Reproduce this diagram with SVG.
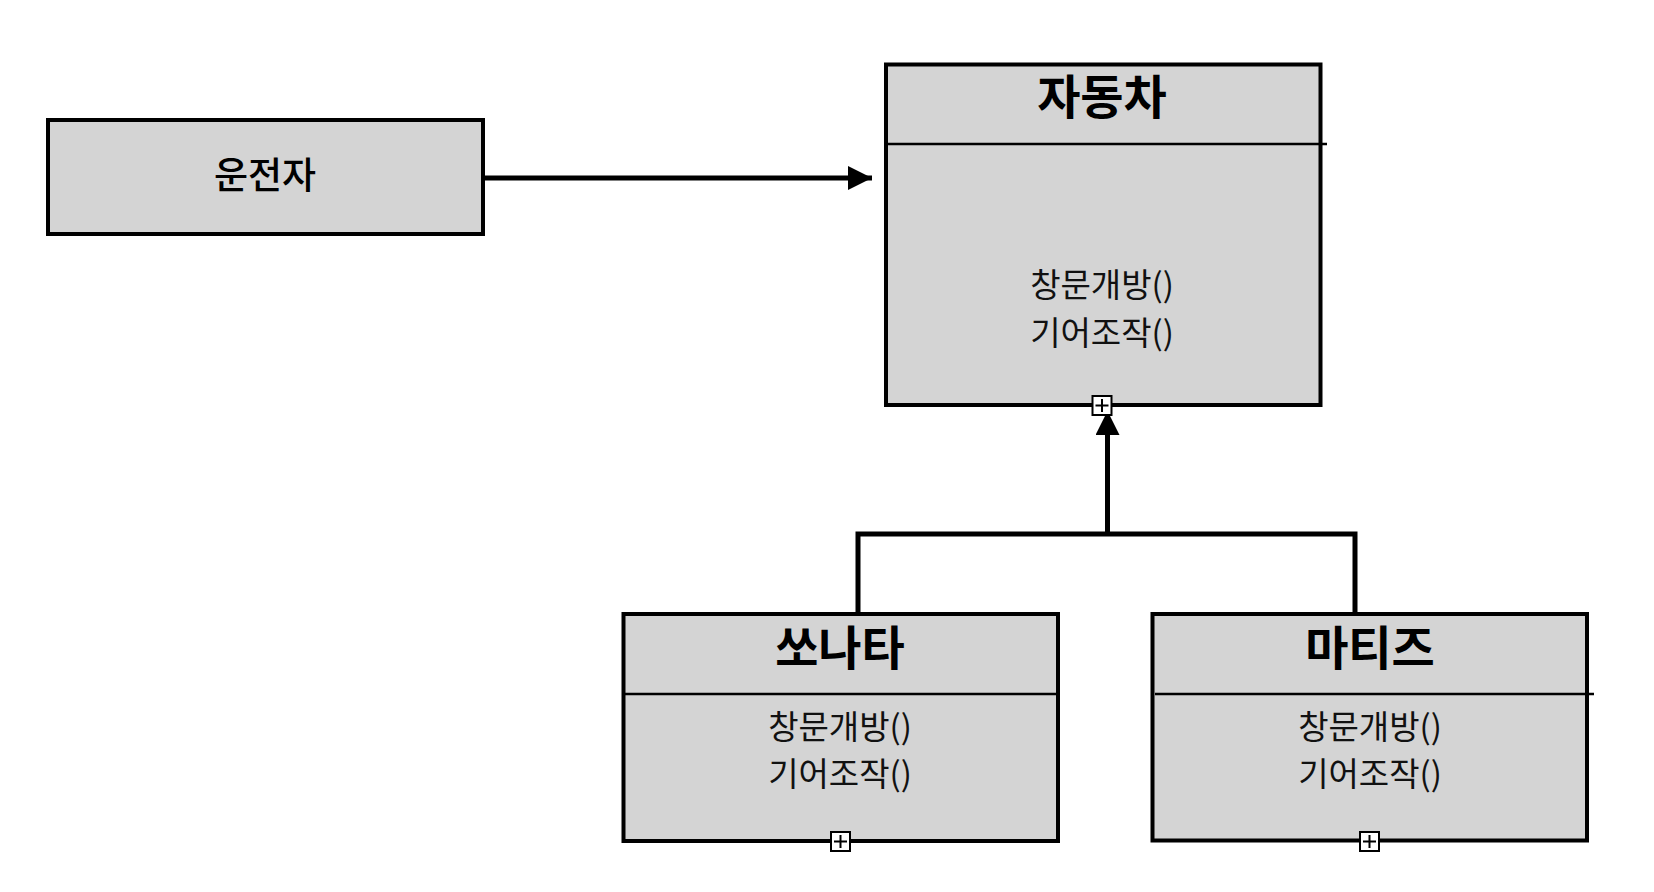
<svg xmlns="http://www.w3.org/2000/svg" width="1654" height="892" viewBox="0 0 1654 892">
  <style>
    .box { fill: #d4d4d4; stroke: #000; stroke-width: 4; }
    .div { stroke: #000; stroke-width: 2.3; }
    .title { font-family: "Noto Sans CJK KR", "Noto Sans", sans-serif; font-weight: 700; font-size: 47px; text-anchor: middle; dominant-baseline: central; fill: #000; }
    .name { font-family: "Noto Sans CJK KR", "Noto Sans", sans-serif; font-weight: 500; font-size: 37px; text-anchor: middle; dominant-baseline: central; fill: #000; }
    .meth { font-family: "Noto Sans CJK KR", "Noto Sans", sans-serif; font-weight: 400; font-size: 33px; text-anchor: middle; dominant-baseline: central; fill: #111; }
    .conn { fill: none; stroke: #000; stroke-width: 5; }
    .plus rect { fill: #fff; stroke: #000; stroke-width: 2; }
    .plus path { stroke: #000; stroke-width: 2; fill: none; }
  </style>
  <defs>
    <marker id="arrow" markerUnits="userSpaceOnUse" markerWidth="26" markerHeight="26" refX="24" refY="12" orient="auto">
      <path d="M0,0 L24,12 L0,24 Z" fill="#000"/>
    </marker>
  </defs>
  <rect width="1654" height="892" fill="#fff"/>

  <g id="connectors">
    <path class="conn" d="M483,178 L872,178" marker-end="url(#arrow)"/>
    <path class="conn" d="M858,614 L858,534 L1355,534 L1355,614"/>
    <path class="conn" d="M1107.5,534 L1107.5,411" marker-end="url(#arrow)"/>
  </g>

  <g id="driver">
    <rect class="box" x="48" y="120" width="435" height="114"/>
    <text class="name" x="265" y="173">운전자</text>
  </g>

  <g id="car">
    <rect class="box" x="886" y="64.5" width="434.5" height="340.5"/>
    <line class="div" x1="886" y1="144" x2="1327" y2="144"/>
    <text class="title" x="1102" y="93">자동차</text>
    <text class="meth" x="1102" y="283">창문개방()</text>
    <text class="meth" x="1102" y="331">기어조작()</text>
  </g>

  <g id="sonata">
    <rect class="box" x="623.5" y="614" width="434.5" height="227"/>
    <line class="div" x1="623.5" y1="694" x2="1058" y2="694"/>
    <text class="title" x="840" y="644">쏘나타</text>
    <text class="meth" x="840" y="725">창문개방()</text>
    <text class="meth" x="840" y="772">기어조작()</text>
  </g>

  <g id="matiz">
    <rect class="box" x="1152.5" y="614" width="434.5" height="226.5"/>
    <line class="div" x1="1155" y1="694" x2="1594" y2="694"/>
    <text class="title" x="1370" y="644">마티즈</text>
    <text class="meth" x="1370" y="725">창문개방()</text>
    <text class="meth" x="1370" y="772">기어조작()</text>
  </g>

  <g id="car-plus" class="plus">
    <rect x="1092.5" y="396" width="19" height="19"/>
    <path d="M1102,399 L1102,412 M1095.5,405.5 L1108.5,405.5"/>
  </g>
  <g id="sonata-plus" class="plus">
    <rect x="831" y="832" width="19" height="19"/>
    <path d="M840.5,835 L840.5,848 M834,841.5 L847,841.5"/>
  </g>
  <g id="matiz-plus" class="plus">
    <rect x="1360" y="832" width="19" height="19"/>
    <path d="M1369.5,835 L1369.5,848 M1363,841.5 L1376,841.5"/>
  </g>
</svg>
